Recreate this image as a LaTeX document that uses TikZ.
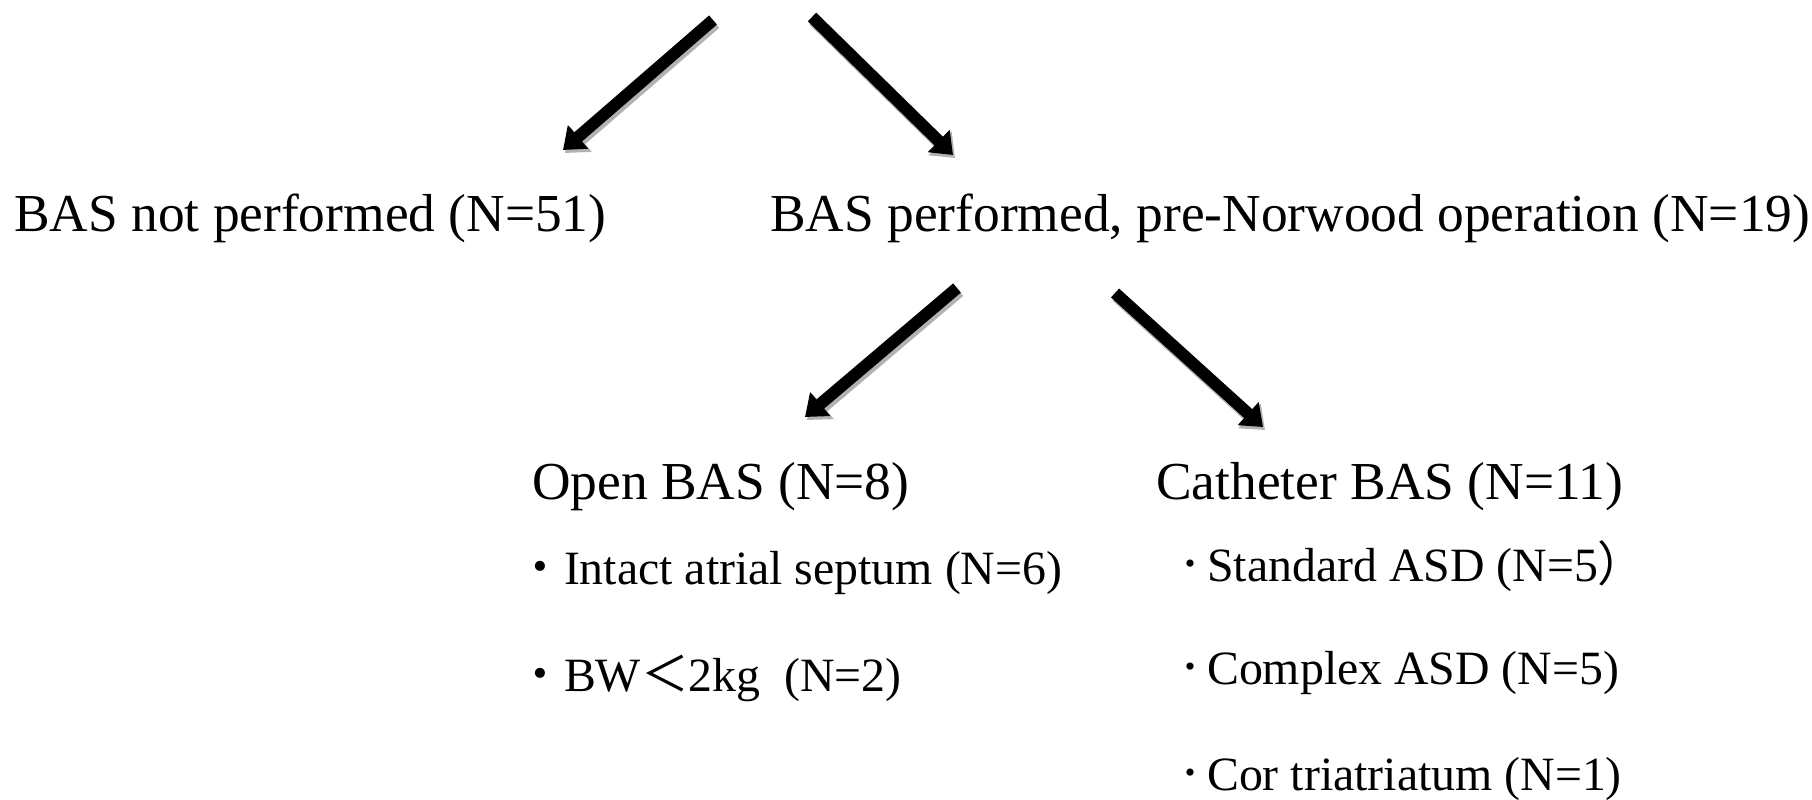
\documentclass[tikz,border=0pt]{standalone}
\usepackage{fontspec}
\setmainfont{Liberation Serif}
\newfontfamily\cjk{Noto Sans CJK JP}
\usetikzlibrary{arrows.meta}
\tikzset{
  bigarrow/.style={line width=12pt, black, -{Triangle[width=30pt,length=20pt]}},
  arrowshadow/.style={line width=13pt, black!30, -{Triangle[width=32pt,length=21pt]}},
  head/.style={anchor=base west, inner sep=0pt, font=\fontsize{53.4}{64}\selectfont},
  item/.style={anchor=base west, inner sep=0pt, font=\fontsize{47.8}{56}\selectfont},
}
\newcommand{\smalldot}{\raisebox{5pt}{\cjk\fontsize{34}{40}\selectfont ・}}
\begin{document}
\begin{tikzpicture}[x=1pt,y=-1pt]
\useasboundingbox[fill=white] (0,0) rectangle (1812,800);
\node[head] (n51) at (14,231) {BAS not performed (N=51)};
\node[head] (n19) at (770,231) {BAS performed, pre-Norwood operation (N=19)};
\node[head] (open) at (532,499) {Open BAS (N=8)};
\node[head] (cath) at (1156,499) {Catheter BAS (N=11)};
\node[item] (i1) at (516,584) {{\cjk ・}Intact atrial septum (N=6)};
\node[item] (i2) at (516,691) {{\cjk ・}BW{\cjk ＜}2kg\ \ (N=2)};
\node[item] (c1) at (1173,581) {\smalldot Standard ASD (N=5{\cjk ）}};
\node[item] (c2) at (1173,684) {\smalldot Complex ASD (N=5)};
\node[item] (c3) at (1173,790) {\smalldot Cor triatriatum (N=1)};
\coordinate (t1) at (713,20);
\coordinate (h1) at (563,150);
\coordinate (t2) at (812,17);
\coordinate (h2) at (953,155);
\coordinate (t3) at (957,288);
\coordinate (h3) at (805,417);
\coordinate (t4) at (1115,293);
\coordinate (h4) at (1263,427);
\foreach \a/\b in {t1/h1,t2/h2,t3/h3,t4/h4}{
  \draw[arrowshadow] ([shift={(2,3)}]\a) -- ([shift={(2,3)}]\b);
  \draw[bigarrow] (\a) -- (\b);
}
\end{tikzpicture}
\end{document}
